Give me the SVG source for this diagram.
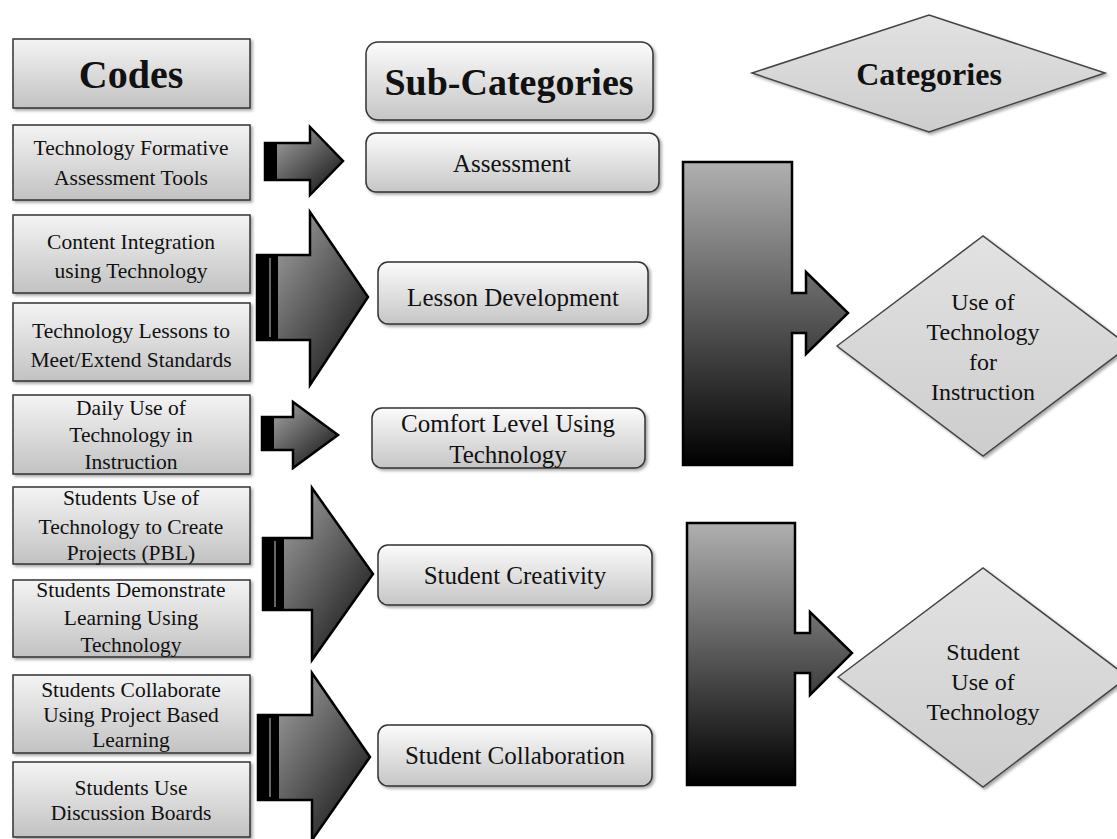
<svg xmlns="http://www.w3.org/2000/svg" width="1117" height="839" viewBox="0 0 1117 839">
<defs>
<linearGradient id="gCode" x1="0" y1="0" x2="0" y2="1"><stop offset="0" stop-color="#f4f4f4"/><stop offset="1" stop-color="#c2c2c2"/></linearGradient>
<linearGradient id="gSub" x1="0" y1="0" x2="0" y2="1"><stop offset="0" stop-color="#fbfbfb"/><stop offset="1" stop-color="#c6c6c6"/></linearGradient>
<linearGradient id="gDia" x1="0" y1="0" x2="0" y2="1"><stop offset="0" stop-color="#e2e2e2"/><stop offset="1" stop-color="#cdcdcd"/></linearGradient>
<linearGradient id="gArrow" x1="0" y1="0" x2="1" y2="1"><stop offset="0" stop-color="#b4b4b4"/><stop offset="1" stop-color="#0a0a0a"/></linearGradient>
<linearGradient id="gBig" x1="0" y1="0" x2="0" y2="1"><stop offset="0" stop-color="#b0b0b0"/><stop offset="1" stop-color="#000"/></linearGradient>
<filter id="sh" x="-10%" y="-10%" width="130%" height="130%"><feDropShadow dx="2" dy="2" stdDeviation="1.5" flood-color="#000" flood-opacity="0.35"/></filter>
</defs>
<style>
.code{fill:url(#gCode);stroke:#333;stroke-width:1.5;filter:url(#sh)}
.sub{fill:url(#gSub);stroke:#333;stroke-width:1.5;filter:url(#sh)}
.dia{fill:url(#gDia);stroke:#444;stroke-width:1.5;filter:url(#sh)}
.arr{fill:url(#gArrow);stroke:#000;stroke-width:2.5;stroke-linejoin:miter}
.big{fill:url(#gBig);stroke:#000;stroke-width:2.5}
.bar{fill:#000}
.line{stroke:#666;stroke-width:2}
text{font-family:"Liberation Serif","Times New Roman",serif;fill:#111;text-anchor:middle}
.t{font-size:21.5px}
.s{font-size:25px}
.d{font-size:24px}
.h{font-weight:bold}
</style>
<rect width="1117" height="839" fill="#fff"/>

<g id="connectors">
<path class="arr" d="M265,143 H310 V127 L343,161 L310,195 V180 H265 Z"/>
<rect class="bar" x="265" y="143" width="12" height="37"/>
<path class="arr" d="M257,255 H310 V212 L368,297 L310,385 V340 H257 Z"/>
<rect class="bar" x="257" y="255" width="21" height="85"/><line class="line" x1="270" y1="258" x2="270" y2="337"/>
<path class="arr" d="M262,417 H293 V402 L338,435 L293,468 V450 H262 Z"/>
<rect class="bar" x="262" y="417" width="12" height="33"/>
<path class="arr" d="M263,538 H312 V488 L373,574 L312,660 V610 H263 Z"/>
<rect class="bar" x="263" y="538" width="21" height="72"/><line class="line" x1="275" y1="541" x2="275" y2="607"/>
<path class="arr" d="M258,715 H312 V673 L370,757 L312,840 V800 H258 Z"/>
<rect class="bar" x="258" y="715" width="21" height="85"/><line class="line" x1="270" y1="718" x2="270" y2="797"/>
<path class="big" d="M683,162 H792 V293 H806 V272 L848,313 L806,354 V333 H792 V465 H683 Z"/>
<path class="big" d="M687,523 H795 V633 H810 V612 L852,653 L810,695 V673 H795 V785 H687 Z"/>
</g>

<g id="codes-header"><rect class="code" x="13" y="39" width="237" height="69"/><text class="h" x="131" y="88" font-size="40">Codes</text></g>
<g id="code1"><rect class="code" x="13" y="125" width="237" height="75"/><text class="t" x="131" y="155">Technology Formative</text><text class="t" x="131" y="185">Assessment Tools</text></g>
<g id="code2"><rect class="code" x="13" y="215" width="237" height="78"/><text class="t" x="131" y="249">Content Integration</text><text class="t" x="131" y="278">using Technology</text></g>
<g id="code3"><rect class="code" x="13" y="303" width="237" height="78"/><text class="t" x="131" y="338">Technology Lessons to</text><text class="t" x="131" y="367">Meet/Extend Standards</text></g>
<g id="code4"><rect class="code" x="13" y="395" width="237" height="79"/><text class="t" x="131" y="415">Daily  Use of</text><text class="t" x="131" y="442">Technology in</text><text class="t" x="131" y="469">Instruction</text></g>
<g id="code5"><rect class="code" x="13" y="487" width="237" height="77"/><text class="t" x="131" y="505">Students Use of</text><text class="t" x="131" y="534">Technology  to Create</text><text class="t" x="131" y="560">Projects (PBL)</text></g>
<g id="code6"><rect class="code" x="13" y="580" width="237" height="77"/><text class="t" x="131" y="597">Students Demonstrate</text><text class="t" x="131" y="625">Learning  Using</text><text class="t" x="131" y="652">Technology</text></g>
<g id="code7"><rect class="code" x="13" y="675" width="237" height="78"/><text class="t" x="131" y="697">Students Collaborate</text><text class="t" x="131" y="722">Using Project Based</text><text class="t" x="131" y="747">Learning</text></g>
<g id="code8"><rect class="code" x="13" y="762" width="237" height="75"/><text class="t" x="131" y="795">Students Use</text><text class="t" x="131" y="820">Discussion Boards</text></g>

<g id="sub-header"><rect class="sub" x="366" y="42" width="287" height="78" rx="12"/><text class="h" x="509" y="95" font-size="38">Sub-Categories</text></g>
<g id="sub1"><rect class="sub" x="366" y="133" width="293" height="59" rx="10"/><text class="s" x="512" y="172">Assessment</text></g>
<g id="sub2"><rect class="sub" x="378" y="262" width="270" height="62" rx="10"/><text class="s" x="513" y="306">Lesson Development</text></g>
<g id="sub3"><rect class="sub" x="372" y="408" width="273" height="60" rx="10"/><text class="s" x="508" y="432">Comfort Level Using</text><text class="s" x="508" y="463">Technology</text></g>
<g id="sub4"><rect class="sub" x="378" y="545" width="274" height="60" rx="10"/><text class="s" x="515" y="584">Student  Creativity</text></g>
<g id="sub5"><rect class="sub" x="378" y="725" width="274" height="61" rx="10"/><text class="s" x="515" y="764">Student  Collaboration</text></g>

<g id="cat-header"><polygon class="dia" points="752,73 929,15 1105,73 929,132"/><text class="h" x="929" y="85" font-size="32">Categories</text></g>
<g id="cat1"><polygon class="dia" points="837,346 983,236 1129,346 983,456"/><text class="d" x="983" y="310">Use of</text><text class="d" x="983" y="340">Technology</text><text class="d" x="983" y="370">for</text><text class="d" x="983" y="400">Instruction</text></g>
<g id="cat2"><polygon class="dia" points="838,677 983,568 1128,677 983,787"/><text class="d" x="983" y="660">Student</text><text class="d" x="983" y="690">Use of</text><text class="d" x="983" y="720">Technology</text></g>
</svg>
